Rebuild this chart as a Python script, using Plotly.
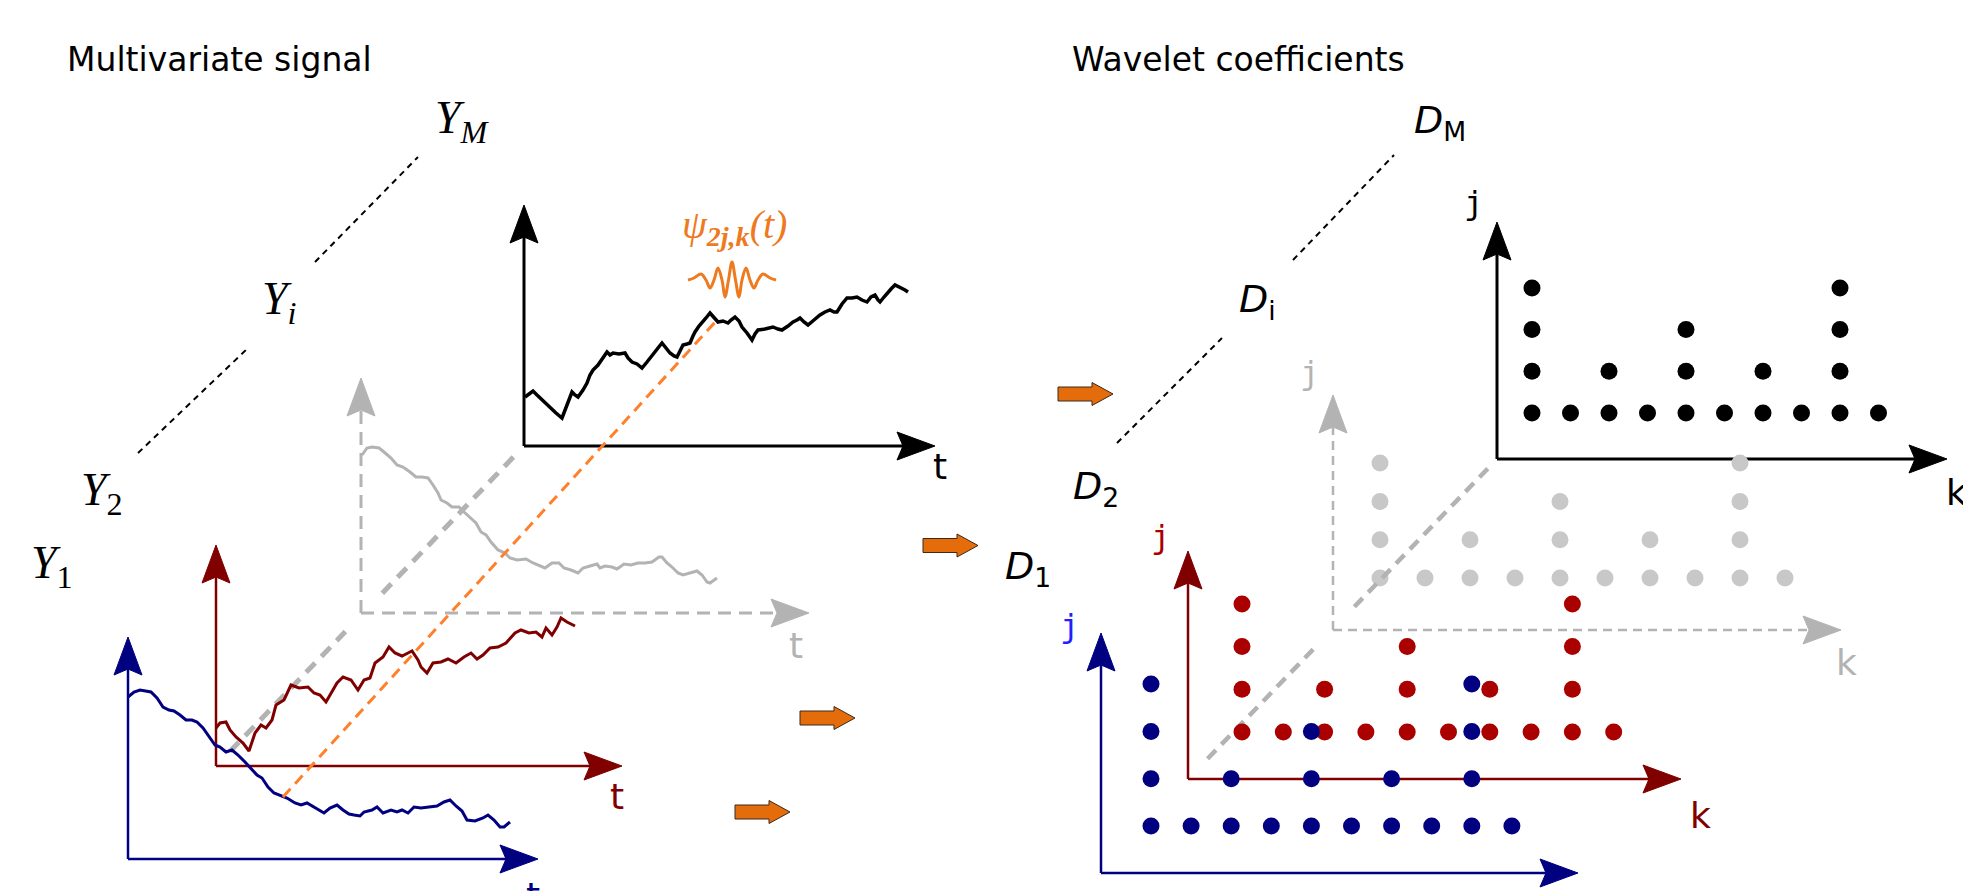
import plotly.graph_objects as go

FIG_W, FIG_H = 1963, 891

# ------------------------------------------------------------------ DATA
# Left: four sampled signals.  t = position along the panel's t axis,
# v = height above the panel's t axis (read off the reference picture).
black_t = [1, 9, 13, 16, 21, 26, 32, 38, 43, 48, 51, 54, 59, 63, 66, 69, 74, 79, 83, 86, 89, 95, 101, 104,
           108, 113, 118, 123, 129, 134, 138, 142, 146, 150, 153, 156, 159, 163, 166, 169, 171, 175, 178,
           182, 186, 190, 194, 199, 204, 207, 211, 215, 218, 223, 228, 231, 234, 241, 249, 254, 258, 264,
           269, 273, 276, 280, 284, 290, 296, 301, 306, 310, 313, 318, 323, 328, 333, 338, 343, 347, 351,
           354, 356, 360, 363, 367, 371, 375, 378, 381, 384]
black_v = [49, 55, 51, 48, 43, 38, 33, 28, 41, 54, 51, 49, 56, 63, 71, 76, 81, 88, 94, 91, 93, 92, 93, 88,
           84, 82, 78, 84, 91, 98, 103, 98, 93, 90, 89, 95, 101, 102, 103, 110, 114, 120, 123,
           128, 133, 128, 124, 125, 123, 126, 129, 125, 119, 113, 106, 112, 116, 117, 119, 117, 116, 120,
           124, 126, 128, 124, 121, 126, 131, 134, 136, 134, 134, 142, 148, 148, 149, 146, 144, 149, 151,
           146, 144, 149, 153, 157, 161, 159, 158, 156, 154]

grey_t = [1, 6, 11, 18, 23, 30, 36, 42, 49, 55, 61, 67, 72, 77, 80, 86, 91, 98, 103, 108, 115, 120, 125,
          130, 137, 144, 149, 156, 165, 172, 177, 184, 191, 198, 203, 210, 217, 222, 229, 236, 239, 244,
          251, 256, 263, 270, 277, 284, 291, 298, 301, 306, 311, 317, 322, 329, 336, 341, 346, 349, 356]
grey_v = [158, 165, 166, 165, 161, 155, 148, 146, 141, 136, 136, 135, 128, 120, 113, 110, 106, 106, 101,
          96, 90, 81, 78, 71, 63, 60, 55, 53, 54, 50, 48, 45, 50, 50, 45, 43, 40, 45, 47, 49, 45, 47,
          46, 44, 49, 48, 50, 50, 51, 56, 56, 50, 46, 40, 38, 40, 42, 38, 31, 30, 35]

red_t = [0, 4, 10, 14, 20, 27, 33, 39, 45, 50, 56, 60, 68, 75, 83, 92, 98, 104, 110, 115, 121, 127, 135,
         142, 148, 154, 159, 167, 173, 179, 186, 192, 196, 202, 205, 211, 217, 225, 232, 240, 248, 255,
         261, 267, 274, 282, 290, 299, 305, 313, 320, 326, 330, 336, 341, 345, 351, 359]
red_v = [38, 43, 44, 36, 29, 23, 15, 33, 41, 38, 46, 61, 66, 81, 78, 79, 73, 71, 64, 73, 83, 89, 86,
         76, 86, 88, 103, 109, 119, 113, 110, 113, 115, 106, 99, 93, 103, 104, 107, 103, 109, 113,
         107, 111, 118, 119, 123, 133, 136, 133, 134, 129, 138, 131, 139, 148, 144, 140]

blue_t = [0, 6, 12, 18, 23, 29, 35, 41, 46, 52, 58, 64, 69, 75, 81, 87, 92, 98, 104, 110, 117, 123, 129,
          134, 140, 146, 152, 159, 167, 173, 179, 184, 190, 196, 202, 209, 215, 221, 226, 232, 236, 244,
          249, 255, 263, 269, 274, 280, 286, 293, 301, 309, 316, 322, 328, 334, 339, 347, 355, 360, 366,
          372, 376, 382]
blue_v = [162, 167, 169, 168, 167, 161, 152, 149, 148, 144, 139, 139, 137, 131, 122, 114, 112, 107, 109,
          104, 97, 91, 84, 81, 72, 66, 64, 61, 56, 54, 56, 53, 50, 46, 51, 54, 49, 45, 44, 43, 47, 49,
          52, 46, 49, 47, 49, 46, 52, 51, 52, 53, 57, 59, 53, 48, 39, 38, 41, 44, 39, 32, 32, 37]

# Mother wavelet sketch psi_{2^j,k}(t): offsets and amplitudes
wave_dt = [-44, -38, -31, -26, -22, -18, -14, -10, -7, -3.5, 0, 3.5, 7, 10, 14, 18, 22, 26, 31, 38, 44]
wave_amp = [0, 2, 6, 0, -8, 0, 12, 0, -17, 0, 18, 0, -17, 0, 12, 0, -8, 0, 6, 2, 0]

# Right: number of scales j holding a coefficient at each position k
coef_k = [1, 2, 3, 4, 5, 6, 7, 8, 9, 10]
coef_levels = [4, 1, 2, 1, 3, 1, 2, 1, 4, 1]

# ------------------------------------------------------------------ STYLE / LAYOUT
BLACK = "#000000"
GREY = "#b3b3b3"
GREY_DOT = "#c8c8c8"
RED = "#800000"
RED_DOT = "#aa0000"
BLUE = "#000080"
BLUE_J = "#1f1fff"
ORANGE_DASH = "#ff7f2a"
ORANGE = "#ee7a1f"
ARROW_FILL = "#e46c0a"

fig = go.Figure()


def add_line(xs, ys, color, width, dash=None, shape="linear"):
    fig.add_trace(go.Scatter(x=xs, y=ys, mode="lines",
                             line=dict(color=color, width=width, dash=dash, shape=shape),
                             hoverinfo="skip", showlegend=False))


def add_head(tx, ty, direction, color, L=38, Wd=28, notch=6):
    if direction == "up":
        xs = [tx, tx + Wd / 2, tx, tx - Wd / 2, tx]
        ys = [ty, ty + L, ty + L - notch, ty + L, ty]
    else:
        xs = [tx, tx - L, tx - L + notch, tx - L, tx]
        ys = [ty, ty - Wd / 2, ty, ty + Wd / 2, ty]
    fig.add_trace(go.Scatter(x=xs, y=ys, mode="lines", fill="toself", fillcolor=color,
                             line=dict(color=color, width=1), hoverinfo="skip", showlegend=False))


def add_axes(origin, x_tip, y_tip, color, width, dash=None, L=38, Wd=28, notch=6):
    ox, oy = origin
    add_line([ox, ox], [oy, y_tip + L - notch], color, width, dash)
    add_line([ox, x_tip - L + notch], [oy, oy], color, width, dash)
    add_head(ox, y_tip, "up", color, L, Wd, notch)
    add_head(x_tip, oy, "right", color, L, Wd, notch)


def add_diag(p0, p1, segments, color, width, dash):
    for s0, s1 in segments:
        xs = [p0[0] + s0 * (p1[0] - p0[0]), p0[0] + s1 * (p1[0] - p0[0])]
        ys = [p0[1] + s0 * (p1[1] - p0[1]), p0[1] + s1 * (p1[1] - p0[1])]
        add_line(xs, ys, color, width, dash)


def block_arrow(x0, yc):
    xs = [x0, x0 + 34, x0 + 34, x0 + 55, x0 + 34, x0 + 34, x0, x0]
    ys = [yc - 7, yc - 7, yc - 11.5, yc, yc + 11.5, yc + 7, yc + 7, yc - 7]
    fig.add_trace(go.Scatter(x=xs, y=ys, mode="lines", fill="toself", fillcolor=ARROW_FILL,
                             line=dict(color="#3a2a1a", width=1), hoverinfo="skip", showlegend=False))


# ---------------- left panels (back to front)
left_panels = [
    dict(origin=(524, 446), x_tip=935, y_tip=205, color=BLACK, dash=None, aw=3, sw=3.5, t=black_t, v=black_v),
    dict(origin=(361, 613), x_tip=809, y_tip=378, color=GREY, dash="13px,8px", aw=3, sw=3, t=grey_t, v=grey_v),
    dict(origin=(216, 766), x_tip=622, y_tip=545, color=RED, dash=None, aw=2.5, sw=3, t=red_t, v=red_v),
    dict(origin=(128, 859), x_tip=538, y_tip=637, color=BLUE, dash=None, aw=2.5, sw=3, t=blue_t, v=blue_v),
]

for i, p in enumerate(left_panels):
    ox, oy = p["origin"]
    add_axes(p["origin"], p["x_tip"], p["y_tip"], p["color"], p["aw"], p["dash"])
    add_line([ox + t for t in p["t"]], [oy - v for v in p["v"]], p["color"], p["sw"])
    if i == 1:
        # dashed diagonal through the origins (red -> grey -> black)
        add_diag(left_panels[2]["origin"], left_panels[0]["origin"],
                 [(0.045, 0.42), (0.54, 0.97)], GREY, 5, "13px,9px")

# orange dashed link between samples and the wavelet
add_line([283, 717], [797, 320], ORANGE_DASH, 3, "11px,7px")

# wavelet
add_line([732 + d for d in wave_dt], [280 - a for a in wave_amp], ORANGE, 3, shape="spline")

# thin black dotted continuation lines
add_line([138, 248], [453, 348], BLACK, 2, "6px,5px")
add_line([315, 418], [262, 157], BLACK, 2, "6px,5px")
add_line([1117, 1222], [443, 338], BLACK, 2, "6px,5px")
add_line([1293, 1394], [260, 155], BLACK, 2, "6px,5px")

# ---------------- right panels (back to front)
right_panels = [
    dict(origin=(1497, 459), x_tip=1947, y_tip=222, color=BLACK, dot=BLACK, dash=None, aw=3,
         k0=35, kstep=38.5, j0=46, jstep=41.7),
    dict(origin=(1333, 630), x_tip=1841, y_tip=395, color=GREY, dot=GREY_DOT, dash="9px,6px", aw=2.5,
         k0=47, kstep=45.0, j0=52, jstep=38.3),
    dict(origin=(1188, 779), x_tip=1681, y_tip=551, color=RED, dot=RED_DOT, dash=None, aw=2.5,
         k0=54, kstep=41.3, j0=47, jstep=42.7),
    dict(origin=(1101, 873), x_tip=1578, y_tip=633, color=BLUE, dot=BLUE, dash=None, aw=2.5,
         k0=50, kstep=40.1, j0=47, jstep=47.3),
]

for i, p in enumerate(right_panels):
    ox, oy = p["origin"]
    add_axes(p["origin"], p["x_tip"], p["y_tip"], p["color"], p["aw"], p["dash"])
    xs, ys = [], []
    for k, n in zip(coef_k, coef_levels):
        for j in range(1, n + 1):
            xs.append(ox + p["k0"] + (k - 1) * p["kstep"])
            ys.append(oy - (p["j0"] + (j - 1) * p["jstep"]))
    fig.add_trace(go.Scatter(x=xs, y=ys, mode="markers",
                             marker=dict(color=p["dot"], size=17, line=dict(width=0)),
                             hoverinfo="skip", showlegend=False))
    if i == 1:
        add_diag(right_panels[0]["origin"], right_panels[2]["origin"],
                 [(0.03, 0.465), (0.595, 0.94)], GREY, 4.5, "12px,8px")

# orange block arrows (signal -> coefficients)
for x0, yc in [(1058, 394), (923, 545.5), (800, 718), (735, 812)]:
    block_arrow(x0, yc)

# ---------------- text
SANS = "DejaVu Sans"
SERIF = "Liberation Serif"
MONO = "DejaVu Sans Mono"


def label(x, y, text, size, color=BLACK, family=SANS, xanchor="center", yshift=0):
    fig.add_annotation(x=x, y=y, text=text, showarrow=False, xanchor=xanchor, yanchor="middle",
                       yshift=yshift, font=dict(family=family, size=size, color=color))


label(65, 59, "Multivariate signal", 33, xanchor="left")
label(1070, 59, "Wavelet coefficients", 33, xanchor="left")

label(462, 121, "<i>Y</i><sub><i>M</i></sub>", 46, family=SERIF)
label(279, 302, "<i>Y</i><sub><i>i</i></sub>", 46, family=SERIF)
label(102, 493, "<i>Y</i><sub>2</sub>", 46, family=SERIF)
label(52, 566, "<i>Y</i><sub>1</sub>", 46, family=SERIF)

label(1440, 122, "<i>D</i><sub>M</sub>", 38)
label(1257, 301, "<i>D</i><sub>i</sub>", 38)
label(1096, 488, "<i>D</i><sub>2</sub>", 38)
label(1028, 568, "<i>D</i><sub>1</sub>", 38)

label(734, 227, "<i>ψ</i><sub><b><i>2j,k</i></b></sub><i>(t)</i>", 40, color=ORANGE, family=SERIF)

label(940, 466, "t", 36)
label(796, 645, "t", 36, color=GREY)
label(617, 796, "t", 36, color=RED)
label(533, 889, "t", 36, color=BLUE, yshift=-6)

label(1473, 203, "j", 32, family=MONO)
label(1309, 373, "j", 32, color=GREY, family=MONO)
label(1160, 537, "j", 32, color=RED_DOT, family=MONO)
label(1069, 626, "j", 32, color=BLUE_J, family=MONO)

label(1956, 492, "k", 36)
label(1846, 662, "k", 36, color=GREY)
label(1700, 815, "k", 36, color=RED)

fig.update_layout(
    width=FIG_W, height=FIG_H,
    margin=dict(l=0, r=0, t=0, b=0),
    paper_bgcolor="white", plot_bgcolor="white",
    xaxis=dict(range=[0, FIG_W], visible=False, fixedrange=True),
    yaxis=dict(range=[FIG_H, 0], visible=False, fixedrange=True),
    showlegend=False,
)

fig.write_html("out.html", config={"displayModeBar": False},
               post_script="document.body.style.margin='0';document.body.style.overflow='hidden';")
